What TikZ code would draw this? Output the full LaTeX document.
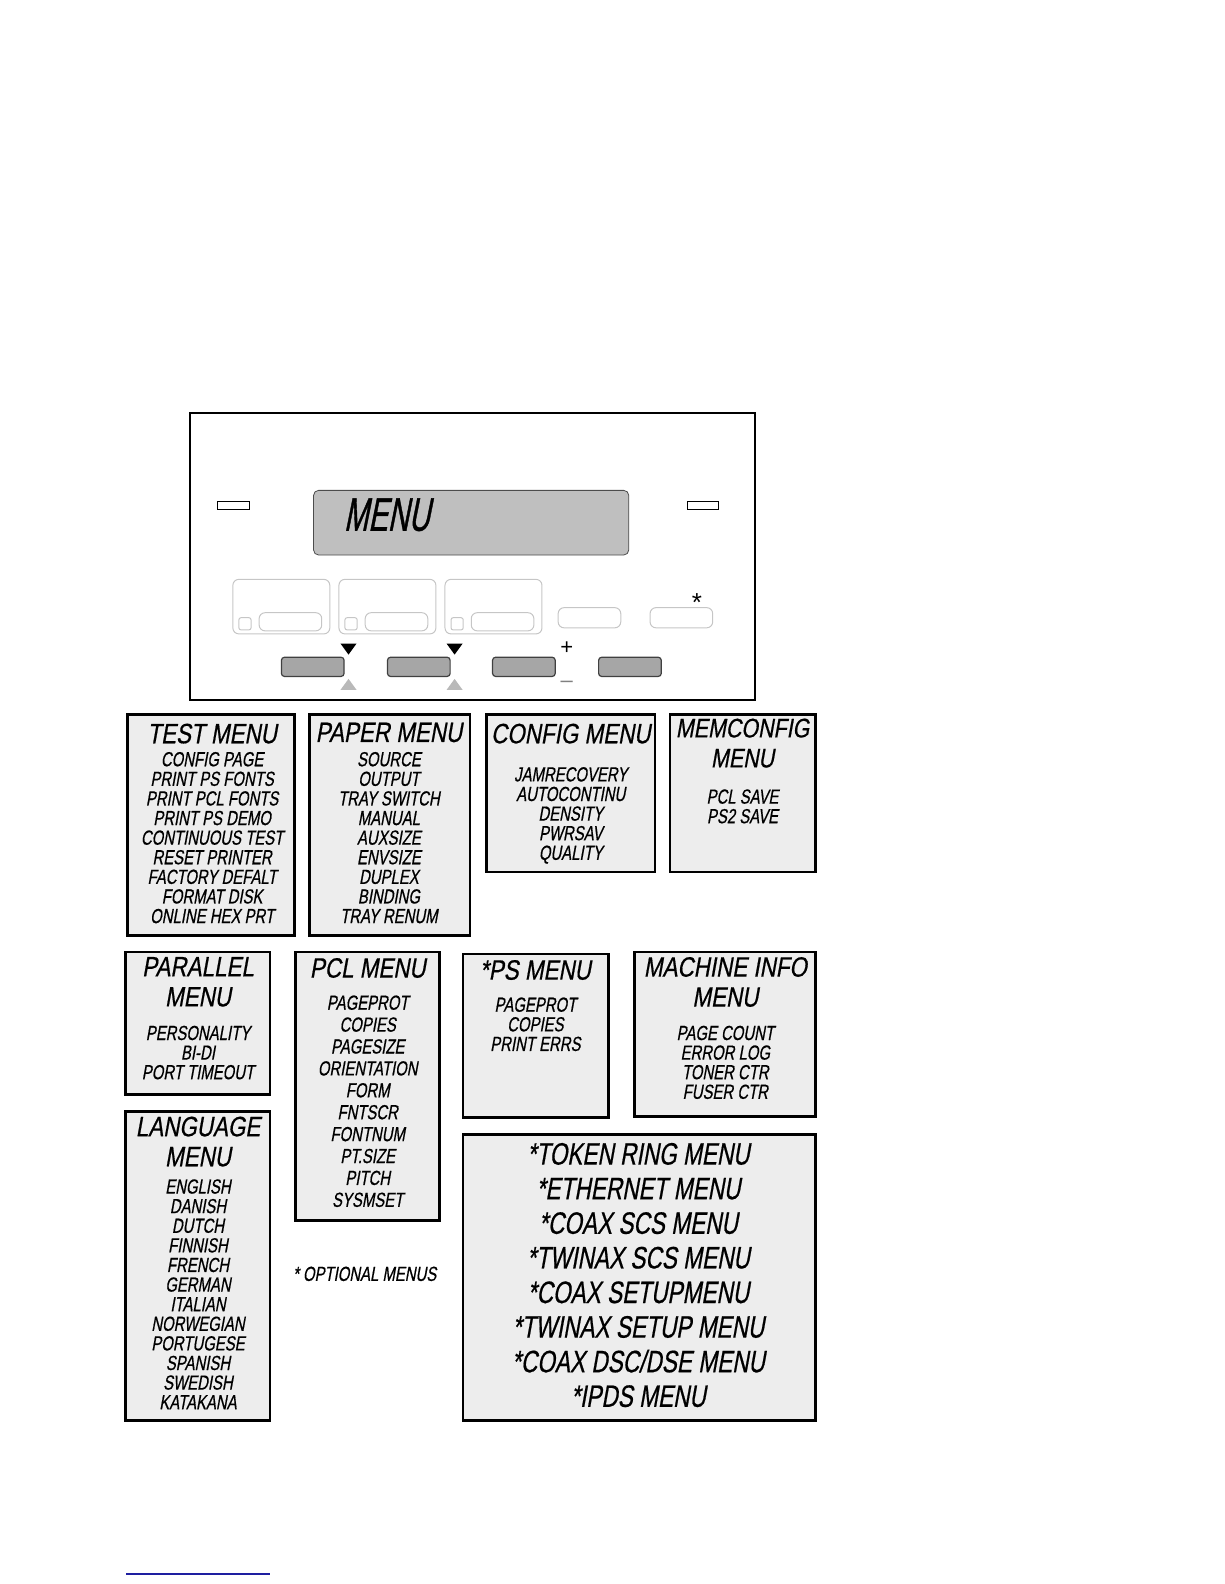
\documentclass[tikz,border=0pt]{standalone}
\usepackage{fontspec}
\setmainfont{Liberation Sans}
\newfontfamily\lcd[FakeStretch=0.73,FakeSlant=0.18,FakeBold=0.6]{Liberation Sans}
\newfontfamily\lcdtitle[FakeStretch=0.8,FakeSlant=0.18,FakeBold=0.6]{Liberation Sans}
\newfontfamily\lcdshow[FakeStretch=0.62,FakeSlant=0.2,FakeBold=0.8]{Liberation Sans}
\usetikzlibrary{positioning}

\begin{document}
\begin{tikzpicture}[
        x=0.505pt, y=-0.505pt,
        dim/.style 2 args={minimum width=#1*0.505pt, minimum height=#2*0.505pt},
        menubox/.style={draw, line width=1.3pt, fill=gray!14, anchor=north west, inner sep=0pt},
        ttl/.style={font=\lcdtitle\fontsize{14}{14.8}\selectfont, align=center, inner sep=0pt, anchor=north},
        itm/.style={font=\lcd\fontsize{10.2}{9.8}\selectfont, align=center, inner sep=0pt, anchor=north},
        big/.style={font=\lcd\fontsize{15.5}{17.3}\selectfont, align=center, inner sep=0pt, anchor=north},
        keyframe/.style={draw=gray!45, line width=0.5pt, rounded corners=3pt, anchor=north west, inner sep=0pt},
        keybtn/.style={draw=black!75, fill=gray!70, line width=0.6pt, rounded corners=1.5pt, anchor=north west, inner sep=0pt, dim={62}{19}},
        led/.style={draw, line width=0.6pt, anchor=north west, inner sep=0pt, dim={31}{8}}
    ]
    \useasboundingbox (0,0) rectangle (1212,1568);

    % control panel
    \node[draw, line width=1pt, anchor=north west, inner sep=0pt, dim={559}{284}] (panel) at (187,408) {};
    \node[led] (ledL) at (215,496) {};
    \node[led] (ledR) at (680,496) {};
    \node[draw=black!70, fill=gray!50, rounded corners=2.5pt, anchor=north west, inner sep=0pt, dim={312}{64}] (lcdwin) at (310,485) {};
    \node[font=\lcdshow\fontsize{23.5}{24}\selectfont, anchor=north west, inner sep=0pt] (lcdtext) at (340,493) {MENU};

    \node[keyframe, dim={96}{54}] (keyA) at (230,573) {};
    \node[keyframe, dim={12}{12}, rounded corners=1pt] (sqA) at (236,611) {};
    \node[keyframe, dim={62}{18}] (slotA) at (256,606) {};
    \node[keyframe, dim={96}{54}] (keyB) at (335,573) {};
    \node[keyframe, dim={12}{12}, rounded corners=1pt] (sqB) at (341,611) {};
    \node[keyframe, dim={62}{18}] (slotB) at (361,606) {};
    \node[keyframe, dim={96}{54}] (keyC) at (440,573) {};
    \node[keyframe, dim={12}{12}, rounded corners=1pt] (sqC) at (446,611) {};
    \node[keyframe, dim={62}{18}] (slotC) at (466,606) {};
    \node[keyframe, dim={62}{20}] (slotD) at (552,601) {};
    \node[keyframe, dim={62}{20}] (slotE) at (643,601) {};
    \node[font=\fontsize{13}{13}\selectfont, inner sep=0pt] (star) at (690,596) {*};

    \fill (337,637) -- (353,637) -- (345,648) -- cycle;
    \fill (442,637) -- (458,637) -- (450,648) -- cycle;
    \fill[gray!55] (337,683) -- (353,683) -- (345,672) -- cycle;
    \fill[gray!55] (442,683) -- (458,683) -- (450,672) -- cycle;
    \node[keybtn] (btnA) at (278,650) {};
    \node[keybtn] (btnB) at (383,650) {};
    \node[keybtn] (btnC) at (487,650) {};
    \node[keybtn] (btnD) at (592,650) {};
    \node[font=\fontsize{11}{11}\selectfont, inner sep=0pt] (plus) at (561,642) {+};
    \node[font=\fontsize{11}{11}\selectfont, text=gray, inner sep=0pt] (minus) at (561,677) {--};

    % menus
    \node[menubox, dim={165}{219}] (test) at (125,706) {};
    \node[ttl] (testT) at (210,716) {TEST MENU};
    \node[itm] (testI) at (210,744) {CONFIG PAGE\\PRINT PS FONTS\\PRINT PCL FONTS\\PRINT PS DEMO\\CONTINUOUS TEST\\RESET PRINTER\\FACTORY DEFALT\\FORMAT DISK\\ONLINE HEX PRT};

    \node[menubox, dim={159}{219}] (paper) at (305,706) {};
    \node[ttl] (paperT) at (385,715) {PAPER MENU};
    \node[itm] (paperI) at (385,744) {SOURCE\\OUTPUT\\TRAY SWITCH\\MANUAL\\AUXSIZE\\ENVSIZE\\DUPLEX\\BINDING\\TRAY RENUM};

    \node[menubox, dim={167}{156}] (config) at (480,706) {};
    \node[ttl] (configT) at (565,716) {CONFIG MENU};
    \node[itm] (configI) at (565,759) {JAMRECOVERY\\AUTOCONTINU\\DENSITY\\PWRSAV\\QUALITY};

    \node[menubox, dim={144}{156}] (memconf) at (662,706) {};
    \node[ttl, font=\lcdtitle\fontsize{13.4}{15}\selectfont] (memconfT) at (735,711) {MEMCONFIG\\MENU};
    \node[itm] (memconfI) at (735,781) {PCL SAVE\\PS2 SAVE};

    \node[menubox, dim={143}{141}] (parallel) at (123,941) {};
    \node[ttl, font=\lcdtitle\fontsize{14}{15}\selectfont] (parallelT) at (196,947) {PARALLEL\\MENU};
    \node[itm] (parallelI) at (196,1015) {PERSONALITY\\BI-DI\\PORT TIMEOUT};

    \node[menubox, dim={143}{266}] (pcl) at (291,941) {};
    \node[ttl] (pclT) at (364,948) {PCL MENU};
    \node[itm, font=\lcd\fontsize{10.2}{10.95}\selectfont] (pclI) at (364,985) {PAGEPROT\\COPIES\\PAGESIZE\\ORIENTATION\\FORM\\FNTSCR\\FONTNUM\\PT.SIZE\\PITCH\\SYSMSET};

    \node[menubox, dim={144}{162}] (ps) at (457,943) {};
    \node[ttl] (psT) at (530,950) {*PS MENU};
    \node[itm] (psI) at (530,987) {PAGEPROT\\COPIES\\PRINT ERRS};

    \node[menubox, dim={179}{163}] (machine) at (627,941) {};
    \node[ttl, font=\lcdtitle\fontsize{14}{15}\selectfont] (machineT) at (718,947) {MACHINE INFO\\MENU};
    \node[itm] (machineI) at (718,1015) {PAGE COUNT\\ERROR LOG\\TONER CTR\\FUSER CTR};

    \node[menubox, dim={143}{306}] (language) at (123,1099) {};
    \node[ttl, font=\lcdtitle\fontsize{14}{15}\selectfont] (languageT) at (196,1105) {LANGUAGE\\MENU};
    \node[itm] (languageI) at (196,1167) {ENGLISH\\DANISH\\DUTCH\\FINNISH\\FRENCH\\GERMAN\\ITALIAN\\NORWEGIAN\\PORTUGESE\\SPANISH\\SWEDISH\\KATAKANA};

    \node[menubox, dim={349}{283}] (optional) at (457,1122) {};
    \node[big] (optionalI) at (632,1131) {*TOKEN RING MENU\\*ETHERNET MENU\\*COAX SCS MENU\\*TWINAX SCS MENU\\*COAX SETUPMENU\\*TWINAX SETUP MENU\\*COAX DSC/DSE MENU\\*IPDS MENU};

    \node[itm, anchor=center] (note) at (361,1261) {* OPTIONAL MENUS};

    \draw[color={rgb,255:red,30;green,30;blue,160}, line width=0.8pt] (125,1558) -- (267,1558);
\end{tikzpicture}
\end{document}
